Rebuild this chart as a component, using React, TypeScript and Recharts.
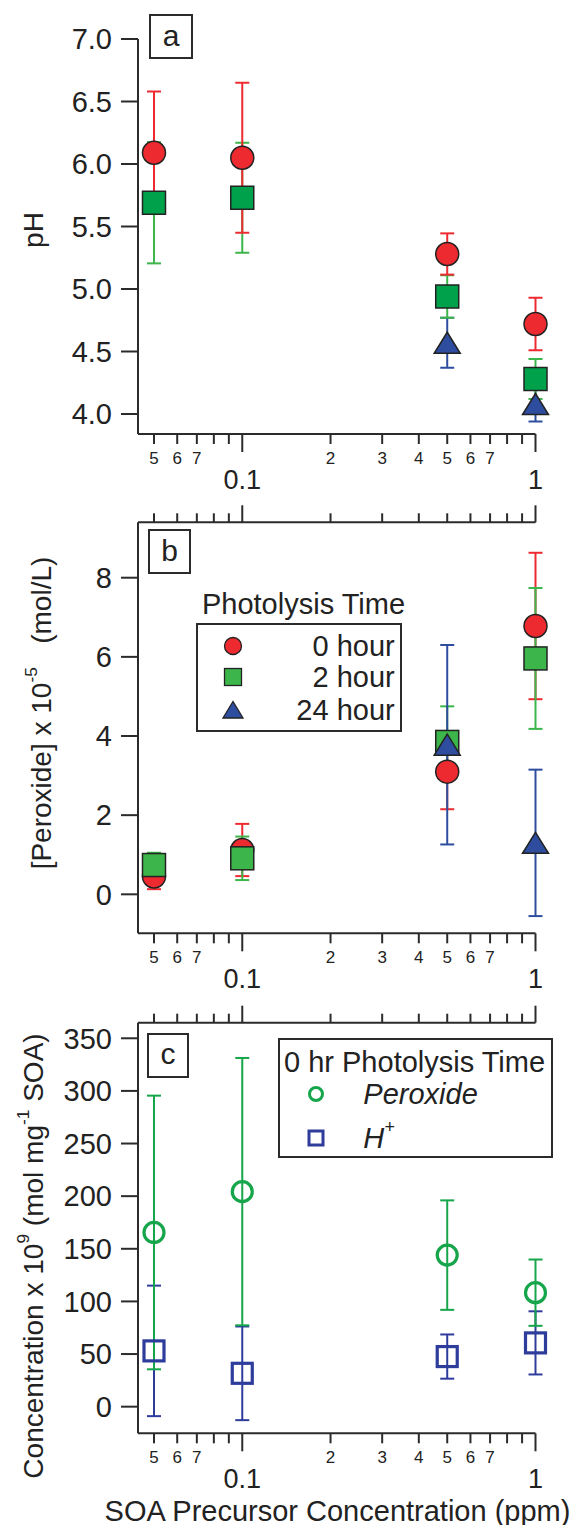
import React from "react";
import { ScatterChart, Scatter, XAxis, YAxis, ErrorBar, ReferenceLine } from "recharts";

// precursor concentrations (ppm)
const conc = [0.05, 0.1, 0.5, 1];
const conc24 = [0.5, 1];
const xTicks = [0.05, 0.06, 0.07, 0.08, 0.09, 0.1, 0.2, 0.3, 0.4, 0.5, 0.6, 0.7, 0.8, 0.9, 1];
const majorTicks = [0.1, 1];
const minorLabelled = [0.05, 0.06, 0.07, 0.2, 0.3, 0.4, 0.5, 0.6, 0.7];

// panel a: pH
const ph0 = [6.09, 6.05, 5.28, 4.72];
const ph0Err = [0.49, 0.6, 0.165, 0.21];
const ph2 = [5.69, 5.73, 4.94, 4.28];
const ph2Err = [0.485, 0.44, 0.17, 0.16];
const ph24 = [4.57, 4.08];
const ph24Err = [0.2, 0.14];
const phTicks = [4.0, 4.5, 5.0, 5.5, 6.0, 6.5, 7.0];

// panel b: [peroxide] x 1e-5 mol/L
const per0 = [0.45, 1.12, 3.1, 6.78];
const per0Err = [0.32, 0.66, 0.95, 1.85];
const per2 = [0.74, 0.91, 3.85, 5.96];
const per2Err = [0.31, 0.55, 0.9, 1.78];
const per24 = [3.78, 1.3];
const per24Err = [2.52, 1.85];
const perTicks = [0, 2, 4, 6, 8];

// panel c: concentration x 1e9 mol/mg SOA, 0 hr
const cPeroxide = [165.5, 204.3, 144, 108.3];
const cPeroxideErr = [130, 127, 52, 31.5];
const cHplus = [53, 31.7, 47.6, 60.6];
const cHplusErr = [62, 44.5, 21, 30];
const concTicks = [0, 50, 100, 150, 200, 250, 300, 350];

const FONT = "'Liberation Sans', Arial, Helvetica, sans-serif";
const INK = "#222";
const AXIS = "#2b2b2b";
const RED = "#ec2a2f";
const GREEN_A = "#00a14b";
const GREEN_B = "#3cb54a";
const BLUE = "#2e4d9f";
const GREEN_C = "#16a54a";
const BLUE_C = "#2e3c9c";

const rows = (xs: number[], ys: number[], es: number[]) =>
  xs.map((x, i) => ({ x, y: ys[i], e: es[i] }));

const tickText = (v: number) => {
  if (v === 0.1) return "0.1";
  if (v === 1) return "1";
  if (minorLabelled.includes(v)) return String(Math.round(v < 0.1 ? v * 100 : v * 10));
  return "";
};

// bottom tick with label; optionally a mirrored tick on the top frame edge
function BottomTick(props: any) {
  const { x, y, payload, mirrorAt } = props;
  const v = payload.value;
  const major = majorTicks.includes(v);
  const t = tickText(v);
  return (
    <g>
      <line x1={x} y1={y} x2={x} y2={y + (major ? 18 : 10)} stroke={AXIS} strokeWidth={2} />
      {mirrorAt ? (
        <line x1={x} y1={y - mirrorAt} x2={x} y2={y - mirrorAt - (major ? 17 : 9)} stroke={AXIS} strokeWidth={2} />
      ) : null}
      {t && (
        <text x={x} y={y + (major ? 46 : 24)} textAnchor="middle" dominantBaseline="central"
          fontSize={major ? 27 : 17} fill={INK} fontFamily={FONT}>{t}</text>
      )}
    </g>
  );
}

const circle = (fill: string) => (p: any) =>
  <circle cx={p.cx} cy={p.cy} r={11.5} fill={fill} stroke="#222" strokeWidth={1.5} />;
const square = (fill: string) => (p: any) =>
  <rect x={p.cx - 11.5} y={p.cy - 11.5} width={23} height={23} fill={fill} stroke="#222" strokeWidth={1.5} />;
const triangle = (fill: string) => (p: any) =>
  <polygon points={`${p.cx},${p.cy - 10.5} ${p.cx - 13},${p.cy + 10.5} ${p.cx + 13},${p.cy + 10.5}`}
    fill={fill} stroke="#222" strokeWidth={1.5} />;
const openCircle = (c: string) => (p: any) =>
  <circle cx={p.cx} cy={p.cy} r={10} fill="none" stroke={c} strokeWidth={3.2} />;
const openSquare = (c: string) => (p: any) =>
  <rect x={p.cx - 10} y={p.cy - 10} width={20} height={20} fill="none" stroke={c} strokeWidth={3.2} />;

const axisStyle = { stroke: AXIS, strokeWidth: 2 };

function Panel({ height, margin, yDomain, yTicks, yFmt, mirror, children }: any) {
  const plotH = height - margin.top - margin.bottom - 60;
  return (
    <ScatterChart width={572} height={height} margin={margin}>
      <XAxis type="number" dataKey="x" scale="log" domain={[0.0441, 1]}
        ticks={xTicks} interval={0} tick={<BottomTick mirrorAt={mirror ? plotH : 0} />}
        tickSize={0} tickMargin={0} height={60} axisLine={axisStyle} tickLine={false} />
      <YAxis type="number" dataKey="y" domain={yDomain} ticks={yTicks}
        interval={0} width={80} tickSize={17} tickMargin={9} tickFormatter={yFmt}
        tick={{ fontSize: 29, fill: INK, fontFamily: FONT }} axisLine={axisStyle} tickLine={axisStyle} />
      {mirror && <ReferenceLine y={yDomain[1]} stroke={AXIS} strokeWidth={2} />}
      {children}
    </ScatterChart>
  );
}

const Box = ({ left, top, w, h, children, style }: any) => (
  <div style={{ position: "absolute", left, top, width: w, height: h, border: `2px solid ${AXIS}`,
    boxSizing: "border-box", ...style }}>{children}</div>
);

const Txt = ({ left, top, size = 28, anchor = "left", children, style }: any) => (
  <div style={{ position: "absolute", left, top, fontSize: size, lineHeight: 1, whiteSpace: "nowrap",
    transform: `translate(${anchor === "center" ? "-50%" : anchor === "right" ? "-100%" : "0"}, -50%)`,
    ...style }}>{children}</div>
);

const VLabel = ({ cx, cy, children }: any) => (
  <div style={{ position: "absolute", left: cx, top: cy, fontSize: 28, lineHeight: 1, whiteSpace: "nowrap",
    transform: "translate(-50%, -50%) rotate(-90deg)" }}>{children}</div>
);

const Sup = ({ children }: any) => (
  <span style={{ fontSize: "0.62em", position: "relative", top: "-0.8em" }}>{children}</span>
);

const Mark = ({ cx, cy, children }: any) => (
  <svg style={{ position: "absolute", left: cx - 14, top: cy - 14 }} width={28} height={28}>
    {children}
  </svg>
);

export default function App() {
  return (
    <div style={{ position: "absolute", left: 0, top: 0, width: 572, height: 1525, background: "#fff",
      fontFamily: FONT, color: INK }}>
      <div style={{ position: "absolute", left: 0, top: 0 }}>
        <Panel height={500} margin={{ top: 39, right: 36.5, bottom: 6, left: 58 }}
          yDomain={[3.84, 7.0]} yTicks={phTicks} yFmt={(v: number) => v.toFixed(1)} mirror={false}>
          <Scatter data={rows(conc24, ph24, ph24Err)} shape={triangle(BLUE)} isAnimationActive={false}>
            <ErrorBar dataKey="e" direction="y" width={7} strokeWidth={2} stroke={BLUE} />
          </Scatter>
          <Scatter data={rows(conc, ph2, ph2Err)} shape={square(GREEN_A)} isAnimationActive={false}>
            <ErrorBar dataKey="e" direction="y" width={7} strokeWidth={2} stroke={GREEN_B} />
          </Scatter>
          <Scatter data={rows(conc, ph0, ph0Err)} shape={circle(RED)} isAnimationActive={false}>
            <ErrorBar dataKey="e" direction="y" width={7} strokeWidth={2} stroke={RED} />
          </Scatter>
        </Panel>
      </div>
      <div style={{ position: "absolute", left: 0, top: 480 }}>
        <Panel height={520} margin={{ top: 42.3, right: 36.5, bottom: 6.7, left: 58 }}
          yDomain={[-0.985, 9.4]} yTicks={perTicks} mirror>
          <Scatter data={rows(conc, per0, per0Err)} shape={circle(RED)} isAnimationActive={false}>
            <ErrorBar dataKey="e" direction="y" width={7} strokeWidth={2} stroke={RED} />
          </Scatter>
          <Scatter data={rows(conc, per2, per2Err)} shape={square(GREEN_B)} isAnimationActive={false}>
            <ErrorBar dataKey="e" direction="y" width={7} strokeWidth={2} stroke={GREEN_B} />
          </Scatter>
          <Scatter data={rows(conc24, per24, per24Err)} shape={triangle(BLUE)} isAnimationActive={false}>
            <ErrorBar dataKey="e" direction="y" width={7} strokeWidth={2} stroke={BLUE} />
          </Scatter>
        </Panel>
      </div>
      <div style={{ position: "absolute", left: 0, top: 1000 }}>
        <Panel height={525} margin={{ top: 22.7, right: 36.5, bottom: 31.7, left: 58 }}
          yDomain={[-25.3, 364.8]} yTicks={concTicks} mirror>
          <Scatter data={rows(conc, cHplus, cHplusErr)} shape={openSquare(BLUE_C)} isAnimationActive={false}>
            <ErrorBar dataKey="e" direction="y" width={7} strokeWidth={2} stroke={BLUE_C} />
          </Scatter>
          <Scatter data={rows(conc, cPeroxide, cPeroxideErr)} shape={openCircle(GREEN_C)} isAnimationActive={false}>
            <ErrorBar dataKey="e" direction="y" width={7} strokeWidth={2} stroke={GREEN_C} />
          </Scatter>
        </Panel>
      </div>

      {/* panel letters */}
      <Box left={149} top={14} w={44} h={45}><Txt left={20} top={20} size={30} anchor="center">a</Txt></Box>
      <Box left={148} top={529} w={43} h={45}><Txt left={19.5} top={20} size={30} anchor="center">b</Txt></Box>
      <Box left={147} top={1033} w={42} h={45}><Txt left={19} top={19} size={30} anchor="center">c</Txt></Box>

      {/* y axis titles */}
      <VLabel cx={34.3} cy={230}>pH</VLabel>
      <VLabel cx={42.3} cy={713}>[Peroxide] x 10<Sup>-5</Sup>&nbsp;&nbsp; (mol/L)</VLabel>
      <VLabel cx={34.3} cy={1256}>Concentration x 10<Sup>9</Sup> (mol mg<Sup>-1</Sup> SOA)</VLabel>

      {/* panel b legend */}
      <Txt left={303.5} top={604} size={29} anchor="center">Photolysis Time</Txt>
      <Box left={195.5} top={623} w={206} h={109} />
      <Mark cx={232.5} cy={645.7}><circle cx={14} cy={14} r={8.5} fill={RED} stroke="#222" strokeWidth={1.3} /></Mark>
      <Mark cx={232.5} cy={677.3}><rect x={5.5} y={5.5} width={17} height={17} fill={GREEN_B} stroke="#222" strokeWidth={1.3} /></Mark>
      <Mark cx={232.5} cy={710}><polygon points="14,5.5 4,22 24,22" fill={BLUE} stroke="#222" strokeWidth={1.3} /></Mark>
      <Txt left={394.7} top={645.7} size={29} anchor="right">0 hour</Txt>
      <Txt left={394.7} top={677.3} size={29} anchor="right">2 hour</Txt>
      <Txt left={394.7} top={710} size={29} anchor="right">24 hour</Txt>

      {/* panel c legend */}
      <Box left={278.3} top={1037.7} w={274.4} h={120.6} />
      <Txt left={284} top={1061.7} size={29}>0 hr Photolysis Time</Txt>
      <Mark cx={315.7} cy={1094.3}><circle cx={14} cy={14} r={6.5} fill="none" stroke={GREEN_C} strokeWidth={3} /></Mark>
      <Mark cx={315.7} cy={1137.7}><rect x={7} y={7} width={14} height={14} fill="none" stroke={BLUE_C} strokeWidth={3} /></Mark>
      <Txt left={363.3} top={1094.3} size={29} style={{ fontStyle: "italic" }}>Peroxide</Txt>
      <Txt left={363.3} top={1137.7} size={29} style={{ fontStyle: "italic" }}>H<Sup>+</Sup></Txt>

      {/* x axis title */}
      <Txt left={337.5} top={1510.7} size={29} anchor="center">SOA Precursor Concentration (ppm)</Txt>
    </div>
  );
}
